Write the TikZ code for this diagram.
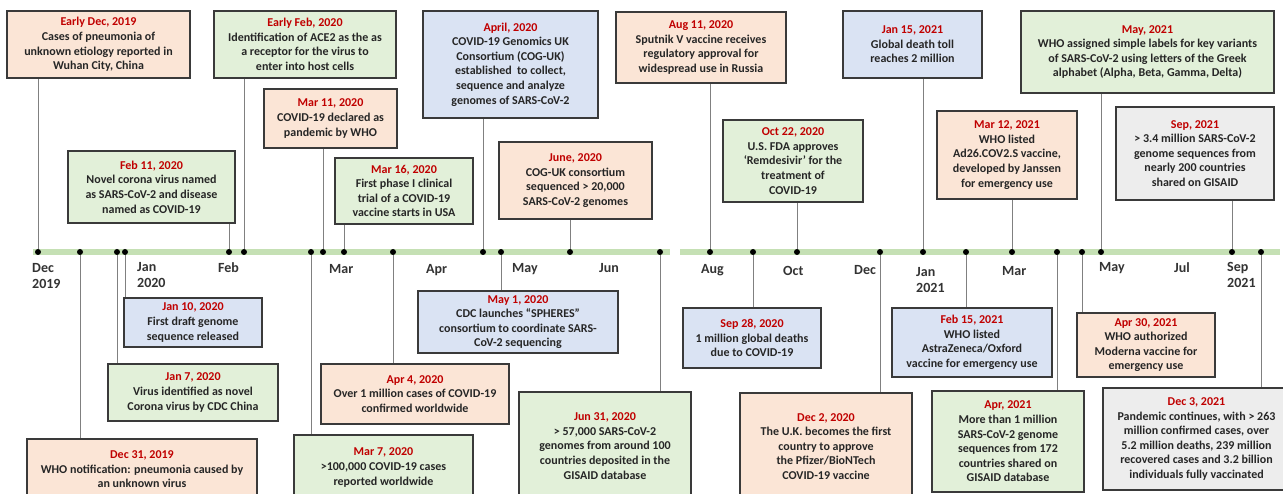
\documentclass[tikz,border=0pt]{standalone}
\usepackage{fontspec}
\setmainfont{Carlito}
\definecolor{peach}{HTML}{FBE5D6}
\definecolor{lgreen}{HTML}{E2F0D9}
\definecolor{lblue}{HTML}{DAE3F3}
\definecolor{lgray}{HTML}{EDEDED}
\definecolor{datered}{HTML}{C00000}
\definecolor{bodytext}{HTML}{262626}
\definecolor{boxline}{HTML}{3A3A3A}
\definecolor{connline}{HTML}{808080}
\definecolor{barcol}{HTML}{C5E0B4}
\definecolor{monthtext}{HTML}{333333}
\tikzset{
  evbox/.style={draw=boxline, line width=1.2pt, align=center, inner sep=0pt,
    font=\bfseries\fontsize{12}{14.6}\selectfont, text=bodytext},
  dotnode/.style={circle, fill=black, inner sep=0pt, minimum size=6pt},
  conn/.style={draw=connline, line width=0.9pt},
  bar/.style={draw=barcol, line width=6pt},
  monthlab/.style={anchor=base west, align=left, inner sep=0pt,
    font=\bfseries\fontsize{14}{16.5}\selectfont, text=monthtext}
}
\newcommand\evt[8]{%
  \node[evbox, fill=#6, minimum width={#4-#2}, minimum height={#5-#3}] (#1)
    at ({(#2+#4)/2},{(#3+#5)/2}) {\textcolor{datered}{#7}\\#8};}
\begin{document}
\begin{tikzpicture}[x=1pt,y=-1pt]
\useasboundingbox (0,0) rectangle (1283,494);
\clip (0,0) rectangle (1283,494);
\fill[white] (0,0) rectangle (1283,494);
% timeline bars
\draw[bar] (33,252) -- (670,252);
\draw[bar] (680,252) -- (1280,252);
% month labels (two-line labels: y is the baseline of the last line)
\node[monthlab] (m1) at (32,289) {Dec\\2019};
\node[monthlab] (m2) at (137,288) {Jan\\2020};
\node[monthlab] (m3) at (218,273) {Feb};
\node[monthlab] (m4) at (329,274) {Mar};
\node[monthlab] (m5) at (426,274) {Apr};
\node[monthlab] (m6) at (512,273) {May};
\node[monthlab] (m7) at (599,273) {Jun};
\node[monthlab] (m8) at (701,274) {Aug};
\node[monthlab] (m9) at (783,276) {Oct};
\node[monthlab] (m10) at (854,275) {Dec};
\node[monthlab] (m11) at (916,293) {Jan\\2021};
\node[monthlab] (m12) at (1002,276) {Mar};
\node[monthlab] (m13) at (1099,272) {May};
\node[monthlab] (m14) at (1174,273) {Jul};
\node[monthlab] (m15) at (1227,288) {Sep\\2021};
% event boxes (top)
\evt{b1}{7}{11}{190}{78}{peach}{Early Dec, 2019}{Cases of pneumonia of\\unknown etiology reported in\\Wuhan City, China}
\evt{b2}{214}{11}{396}{78}{lgreen}{Early Feb, 2020}{Identification of ACE2 as the as\\a receptor for the virus to\\enter into host cells}
\evt{b3}{264}{89}{397}{148}{peach}{Mar 11, 2020}{COVID-19 declared as\\pandemic by WHO}
\evt{b4}{68}{151}{235}{223}{lgreen}{Feb 11, 2020}{Novel corona virus named\\as SARS-CoV-2 and disease\\named as COVID-19}
\evt{b5}{423}{11}{598}{118}{lblue}{April, 2020}{COVID-19 Genomics UK\\Consortium (COG-UK)\\established\ \ to collect,\\sequence and analyze\\genomes of SARS-CoV-2}
\evt{b6}{335}{158}{473}{224}{lgreen}{Mar 16, 2020}{First phase I clinical\\trial of a COVID-19\\vaccine starts in USA}
\evt{b7}{499}{142}{652}{219}{peach}{June, 2020}{COG-UK consortium\\sequenced > 20,000\\SARS-CoV-2 genomes}
\evt{b8}{616}{12}{786}{83}{peach}{Aug 11, 2020}{Sputnik V vaccine receives\\regulatory approval for\\widespread use in Russia}
\evt{b9}{723}{120}{863}{202}{lgreen}{Oct 22, 2020}{U.S. FDA approves\\‘Remdesivir’ for the\\treatment of\\COVID-19}
\evt{b10}{843}{11}{982}{78}{lblue}{Jan 15, 2021}{Global death toll\\reaches 2 million}
\evt{b11}{937}{111}{1077}{199}{peach}{Mar 12, 2021}{WHO listed\\Ad26.COV2.S vaccine,\\developed by Janssen\\for emergency use}
\evt{b12}{1021}{11}{1274}{93}{lgreen}{May, 2021}{WHO assigned simple labels for key variants\\of SARS-CoV-2 using letters of the Greek\\alphabet (Alpha, Beta, Gamma, Delta)}
\evt{b13}{1116}{107}{1274}{200}{lgray}{Sep, 2021}{> 3.4 million SARS-CoV-2\\genome sequences from\\nearly 200 countries\\shared on GISAID}
% event boxes (bottom)
\evt{b14}{124}{298}{262}{347}{lblue}{Jan 10, 2020}{First draft genome\\sequence released}
\evt{b15}{108}{364}{278}{421}{lgreen}{Jan 7, 2020}{Virus identified as novel\\Corona virus by CDC China}
\evt{b16}{27}{439}{257}{500}{peach}{Dec 31, 2019}{WHO notification: pneumonia caused by\\an unknown virus}
\evt{b17}{294}{435}{473}{500}{lgreen}{Mar 7, 2020}{>100,000 COVID-19 cases\\reported worldwide}
\evt{b18}{321}{364}{509}{424}{peach}{Apr 4, 2020}{Over 1 million cases of COVID-19\\confirmed worldwide}
\evt{b19}{418}{291}{618}{353}{lblue}{May 1, 2020}{CDC launches “SPHERES”\\consortium to coordinate SARS-\\CoV-2 sequencing}
\evt{b20}{519}{392}{691}{500}{lgreen}{Jun 31, 2020}{> 57,000 SARS-CoV-2\\genomes from around 100\\countries deposited in the\\GISAID database}
\evt{b21}{683}{308}{821}{368}{lblue}{Sep 28, 2020}{1 million global deaths\\due to COVID-19}
\evt{b22}{740}{393}{912}{500}{peach}{Dec 2, 2020}{The U.K. becomes the first\\country to approve\\the Pfizer/BioNTech\\COVID-19 vaccine}
\evt{b23}{892}{308}{1052}{377}{lblue}{Feb 15, 2021}{WHO listed\\AstraZeneca/Oxford\\vaccine for emergency use}
\evt{b24}{932}{391}{1084}{492}{lgreen}{Apr, 2021}{More than 1 million\\SARS-CoV-2 genome\\sequences from 172\\countries shared on\\GISAID database}
\evt{b25}{1077}{313}{1215}{377}{peach}{Apr 30, 2021}{WHO authorized\\Moderna vaccine for\\emergency use}
\evt{b26}{1103}{388}{1290}{490}{lgray}{Dec 3, 2021}{Pandemic continues, with > 263\\million confirmed cases, over\\5.2 million deaths, 239 million\\recovered cases and 3.2 billion\\individuals fully vaccinated}
% dots
\foreach \i/\x in {1/38,2/80,3/117,4/125,5/229,6/244,7/311,8/323,9/344,10/393,11/483,12/501,13/570,14/660,15/710,16/753,17/797,18/880,19/923,20/966,21/1012,22/1057,23/1082,24/1101,25/1232,26/1261}
  \node[dotnode] (d\i) at (\x,252) {};
% connectors up
\foreach \d/\b in {1/1,5/4,6/2,8/3,9/6,11/5,13/7,15/8,17/9,19/10,21/11,24/12,25/13}
  \draw[conn] (d\d) -- (d\d |- b\b.south);
% connectors down
\foreach \d/\b in {2/16,3/15,4/14,7/17,10/18,12/19,14/20,16/21,18/22,20/23,22/24,23/25,26/26}
  \draw[conn] (d\d) -- (d\d |- b\b.north);
\end{tikzpicture}
\end{document}
